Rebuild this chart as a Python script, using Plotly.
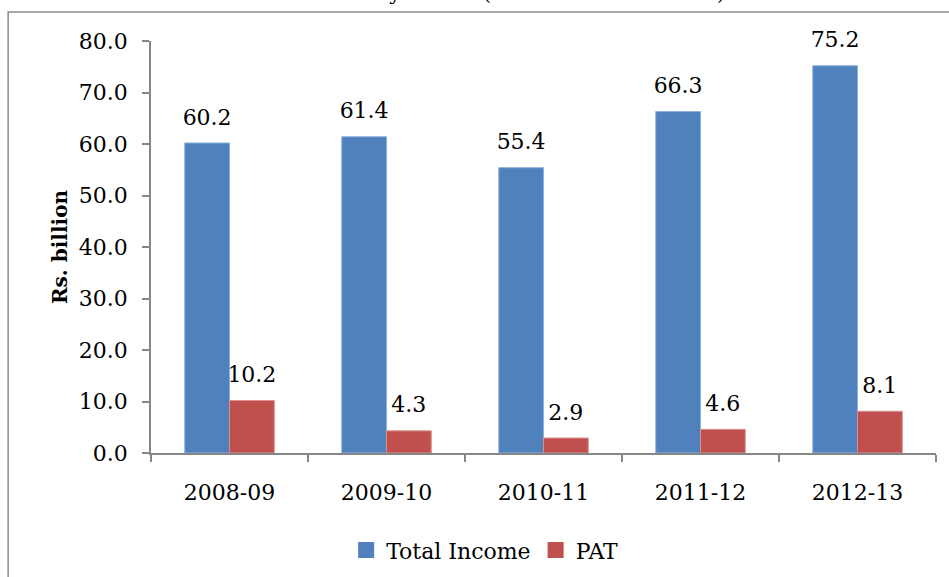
import plotly.graph_objects as go

years = ["2008-09", "2009-10", "2010-11", "2011-12", "2012-13"]
total_income = [60.2, 61.4, 55.4, 66.3, 75.2]
pat = [10.2, 4.3, 2.9, 4.6, 8.1]
series_names = ["Total Income", "PAT"]
y_title = "Rs. billion"
chart_title = "Chart 1: Profitability trends (total income and PAT)"

BLUE = "#4F81BD"
RED = "#C0504D"
FONT = "DejaVu Serif"
AXIS = "#868686"
GAP = 0.43
FS = 22

fig = go.Figure()
for name, vals, col, edge, grp in [
    (series_names[0], total_income, BLUE, "#8DB0DC", "a"),
    (series_names[1], pat, RED, "#DA8F8D", "b"),
]:
    fig.add_trace(go.Bar(
        x=years, y=vals, name=name, offsetgroup=grp,
        marker=dict(color=col, line=dict(color=edge, width=1)),
        showlegend=False, hoverinfo="skip",
    ))
for name, vals, grp in [(series_names[0], total_income, "a"), (series_names[1], pat, "b")]:
    fig.add_trace(go.Scatter(
        x=years, y=vals, mode="markers+text", offsetgroup=grp,
        text=[f"{v:.1f}" for v in vals], textposition="top center",
        textfont=dict(family=FONT, size=FS, color="black"),
        marker=dict(size=19, opacity=0), showlegend=False,
        hoverinfo="skip", cliponaxis=False,
    ))
# legend entries
for name, col in [(series_names[0], BLUE), (series_names[1], RED)]:
    fig.add_trace(go.Scatter(
        x=[None], y=[None], mode="markers", name=name,
        marker=dict(symbol="square", size=16, color=col),
    ))

fig.update_layout(
    width=949, height=577,
    margin=dict(l=151, r=13, t=41, b=124, autoexpand=False),
    barmode="group", bargap=GAP, bargroupgap=0,
    scattermode="group", scattergap=GAP,
    plot_bgcolor="white", paper_bgcolor="white",
    font=dict(family=FONT, size=FS, color="black"),
    showlegend=True,
    legend=dict(orientation="h", x=0.425, xanchor="center", y=-0.236, yanchor="middle",
                font=dict(family=FONT, size=FS, color="black"), itemsizing="trace",
                itemclick=False),
    shapes=[dict(type="rect", xref="paper", yref="paper",
                 x0=-0.182, x1=1.2, y0=-0.5, y1=1.0704,
                 line=dict(color="#8C8C8C", width=1.5), layer="below")],
    annotations=[dict(text=chart_title, xref="paper", yref="paper", x=0.385, y=1.082,
                      xanchor="center", yanchor="bottom", showarrow=False,
                      font=dict(family=FONT, size=21, color="black"))],
)
fig.update_yaxes(
    range=[0, 80], dtick=10, tickformat=".1f", showgrid=False, zeroline=False,
    showline=True, linecolor=AXIS, linewidth=1.5, ticks="outside", ticklen=7,
    tickcolor=AXIS, tickwidth=1.5, ticklabelstandoff=10, automargin=False,
    tickfont=dict(family=FONT, size=FS, color="black"),
    title=dict(text=y_title, font=dict(family=FONT, size=20, color="black", weight="bold"), standoff=6),
)
fig.update_xaxes(
    type="category", range=[-0.5, 4.5], automargin=False,
    showgrid=False, showline=True, linecolor=AXIS, linewidth=1.5,
    ticks="outside", tickson="boundaries", ticklen=7, tickcolor=AXIS, tickwidth=1.5,
    ticklabelstandoff=19, tickfont=dict(family=FONT, size=FS, color="black"),
)
fig.write_html("out.html")
